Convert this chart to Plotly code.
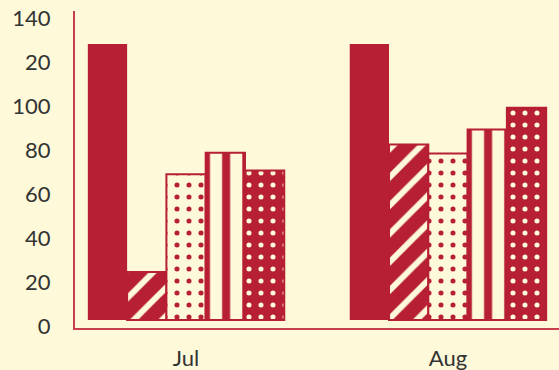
import plotly.graph_objects as go

categories = ["Jul", "Aug"]
series_names = ["A", "B", "C", "D", "E"]
values_a = [125.5, 125.5]
values_b = [21.8, 79.8]
values_c = [66.2, 75.7]
values_d = [76.0, 86.6]
values_e = [68.0, 96.5]
tick_vals = [0, 20, 40, 60, 80, 100, 120, 140]
tick_text = ["0", "20", "40", "60", "80", "100", "20", "140"]

RED = "#B71F34"
CREAM = "#FEF9D9"

series_values = [values_a, values_b, values_c, values_d, values_e]
patterns = [
    dict(shape=""),
    dict(shape="/", bgcolor=RED, fgcolor=CREAM, size=20, solidity=0.3, fillmode="replace"),
    dict(shape=".", bgcolor=CREAM, fgcolor=RED, size=12, solidity=0.14, fillmode="replace"),
    dict(shape="|", bgcolor=CREAM, fgcolor=RED, size=20.15, solidity=0.4, fillmode="replace"),
    dict(shape=".", bgcolor=RED, fgcolor=CREAM, size=12, solidity=0.14, fillmode="replace"),
]

fig = go.Figure()
for i, (name, vals) in enumerate(zip(series_names, series_values)):
    fig.add_trace(go.Bar(
        x=categories, y=vals, name=name,
        marker=dict(color=RED, pattern=patterns[i],
                    line=dict(color=RED, width=0 if i == 0 else 2)),
    ))

fig.update_layout(
    width=559, height=370,
    margin=dict(l=75, r=0, t=11, b=42),
    paper_bgcolor=CREAM, plot_bgcolor=CREAM,
    barmode="group", bargap=0.25, bargroupgap=0,
    showlegend=False,
    font=dict(family="Lato", size=22, color="#333333"),
    xaxis=dict(range=[-0.424, 1.424], showline=True, linecolor="#C8404E", linewidth=2,
               showgrid=False, zeroline=False, ticks="", ticklabelstandoff=10,
               tickfont=dict(size=22)),
    yaxis=dict(range=[-3.64, 140.45], showline=True, linecolor="#C8404E", linewidth=2,
               showgrid=False, zeroline=False, ticks="", tickvals=tick_vals,
               ticktext=tick_text, ticklabelstandoff=18, ticklabelshift=6,
               tickfont=dict(size=22)),
)

fig.write_html("out.html", config={"displayModeBar": False},
               post_script="document.body.style.margin='0';document.body.style.overflow='hidden';")
